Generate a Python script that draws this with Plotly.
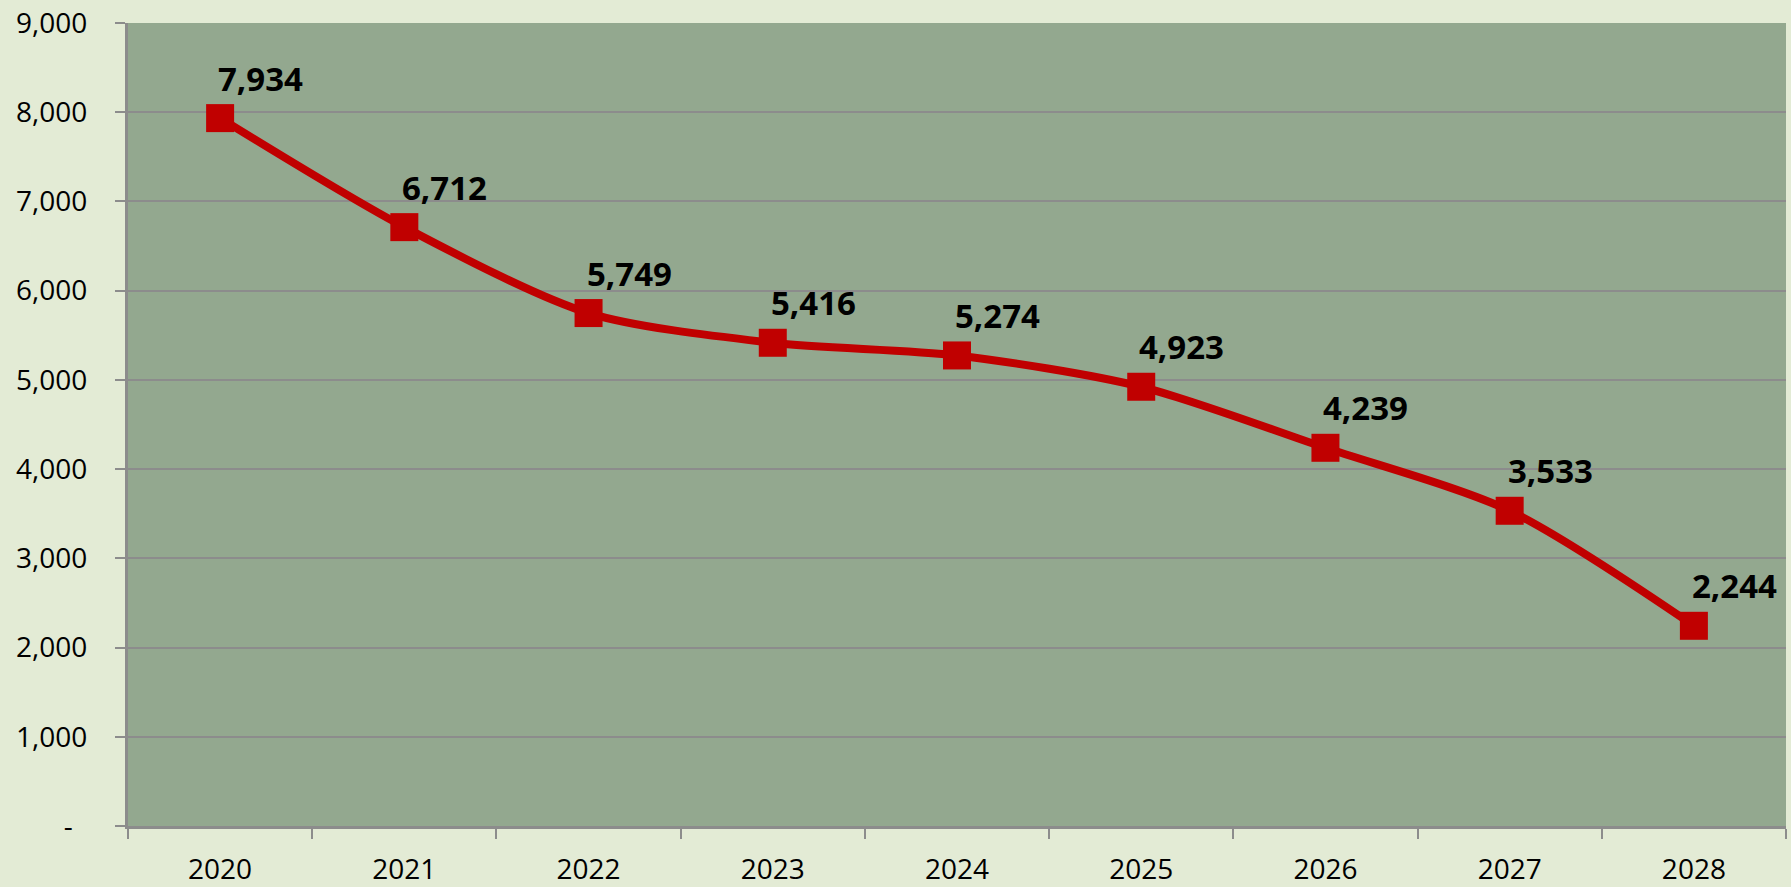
import plotly.graph_objects as go

years = ["2020", "2021", "2022", "2023", "2024", "2025", "2026", "2027", "2028"]
values = [7934, 6712, 5749, 5416, 5274, 4923, 4239, 3533, 2244]
y_tickvals = [0, 1000, 2000, 3000, 4000, 5000, 6000, 7000, 8000, 9000]
y_ticktext = ["-\u00a0\u00a0", "1,000", "2,000", "3,000", "4,000", "5,000", "6,000", "7,000", "8,000", "9,000"]

fig = go.Figure()
fig.add_trace(go.Scatter(
    x=years, y=values, mode="lines+markers",
    line=dict(color="#c00000", width=8, shape="spline", smoothing=0.8),
    marker=dict(symbol="square", size=28, color="#c00000"),
    hoverinfo="skip", showlegend=False,
))

for i, v in enumerate(values):
    fig.add_annotation(
        x=i, y=v, text=f"{v:,}", showarrow=False,
        xanchor="left", yanchor="middle", xshift=-4, yshift=40,
        font=dict(family="Open Sans", size=33, color="#000000", weight="bold"),
    )

fig.update_layout(
    width=1791, height=887,
    margin=dict(l=128, r=5, t=23, b=61),
    paper_bgcolor="#e3ebd5",
    plot_bgcolor="#93a88f",
    font=dict(family="Open Sans", size=28, color="#000000"),
)
fig.update_xaxes(
    type="category", range=[-0.5, len(years) - 0.5],
    tickson="boundaries", ticks="outside", ticklen=10,
    tickcolor="#8c8c8c", tickwidth=2, tickangle=0,
    showline=True, linecolor="#8c8c8c", linewidth=3,
    showgrid=False, ticklabelstandoff=16, automargin=False,
    tickfont=dict(family="Open Sans", size=28),
)
fig.update_yaxes(
    range=[0, 9000], tickvals=y_tickvals, ticktext=y_ticktext,
    ticks="outside", ticklen=10, tickcolor="#8c8c8c", tickwidth=2,
    showline=True, linecolor="#8c8c8c", linewidth=3,
    showgrid=True, gridcolor="#8c8c8c", gridwidth=2,
    zeroline=False, ticklabelstandoff=22, automargin=False,
    tickfont=dict(family="Open Sans", size=28),
)

fig.write_html(
    "out.html",
    config={"displayModeBar": False},
    post_script="document.body.style.margin='0';document.body.style.overflow='hidden';",
)
